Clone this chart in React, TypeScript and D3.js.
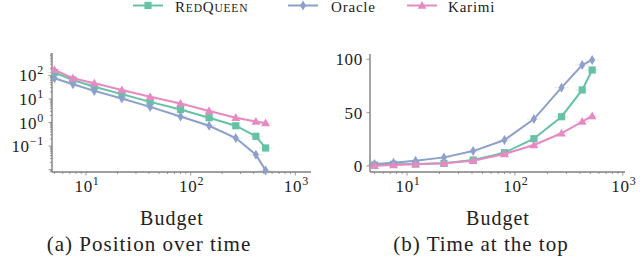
import React from 'react';
import * as d3 from 'd3';

// budgets on the x axis (shared by both panels)
const budgets = [5, 7.5, 12, 22, 41, 80, 150, 270, 420, 520];

// (a) position over time (log scale)
const posRedQueen = [132, 64, 33, 16, 7.5, 3.55, 1.6, 0.73, 0.26, 0.083];
const posOracle = [76, 42, 22, 10.5, 4.6, 1.8, 0.73, 0.22, 0.043, 0.0093];
const posKarimi = [172, 76, 46, 24, 12.3, 6.4, 3.1, 1.6, 1.1, 0.94];

// (b) time at the top (linear)
const topRedQueen = [0.9, 1.6, 1.9, 2.5, 5.6, 12.5, 25.6, 46.2, 71.3, 90];
const topOracle = [1.9, 3.1, 5, 8.1, 14, 24.4, 44, 73.4, 94.7, 99.4];
const topKarimi = [0.3, 0.9, 1.6, 2.5, 5, 11.3, 19.7, 30.7, 41.6, 46.9];

const xTickExps = [1, 2, 3];
const leftYTickExps = [2, 1, 0, -1];
const rightYTicks = [0, 50, 100];

const GREEN = '#66c2a5';
const BLUE = '#8da0cb';
const PINK = '#e78ac3';
const AXIS = '#7f7f7f';
const FONT = "'Liberation Serif'";

type Marker = 'square' | 'diamond' | 'triangle';

const series = [
  { name: 'RedQueen', color: GREEN, marker: 'square' as Marker, pos: posRedQueen, top: topRedQueen },
  { name: 'Oracle', color: BLUE, marker: 'diamond' as Marker, pos: posOracle, top: topOracle },
  { name: 'Karimi', color: PINK, marker: 'triangle' as Marker, pos: posKarimi, top: topKarimi },
];

const MarkerShape = ({ kind, x, y, color }: { kind: Marker; x: number; y: number; color: string }) => {
  if (kind === 'square') return <rect x={x - 3.6} y={y - 3.6} width={7.2} height={7.2} fill={color} />;
  if (kind === 'diamond') return <path d={`M${x},${y - 5} L${x + 3},${y} L${x},${y + 5} L${x - 3},${y} Z`} fill={color} />;
  return <path d={`M${x},${y - 4.6} L${x + 4.4},${y + 3.2} L${x - 4.4},${y + 3.2} Z`} fill={color} />;
};

const Txt = ({ x, y, size, ls = 1, anchor = 'middle', children }: any) => (
  <text x={x} y={y} fontSize={size} textAnchor={anchor} fill="#222" style={{ fontFamily: FONT, letterSpacing: `${ls}px` }}>
    {children}
  </text>
);

const Pow = ({ e }: { e: number }) => (
  <>
    10
    <tspan fontSize={12} dy={-7}>{e < 0 ? `\u2212${-e}` : e}</tspan>
  </>
);

const minorLog = (lo: number, hi: number) => {
  const out: number[] = [];
  for (let k = Math.floor(Math.log10(lo)); k <= Math.ceil(Math.log10(hi)); k++) {
    for (let m = 1; m <= 9; m++) {
      const v = m * Math.pow(10, k);
      if (v >= lo && v <= hi) out.push(v);
    }
  }
  return out;
};

const isDecade = (v: number) => Math.abs(Math.log10(v) - Math.round(Math.log10(v))) < 1e-9;

const Panel = ({ x, y, xTicksY, yLabelX, yTicks, yFormat, values, yMinor }: any) => {
  const [x0, x1] = x.range();
  const [y0, y1] = y.range();
  const line = (vals: number[]) =>
    d3.line<number>().x((_, i) => x(budgets[i])).y((v) => y(v))(vals) as string;
  const xd = x.domain();
  return (
    <g>
      {/* axes */}
      <line x1={x0} x2={x1} y1={y0} y2={y0} stroke={AXIS} strokeWidth={1.4} />
      <line x1={x0} x2={x0} y1={y0} y2={y1} stroke={AXIS} strokeWidth={1.4} />
      {minorLog(xd[0], xd[1]).map((v) => (
        <line key={'xm' + v} x1={x(v)} x2={x(v)} y1={y0} y2={y0 + (isDecade(v) ? 3.5 : 2)} stroke={AXIS} strokeWidth={0.8} />
      ))}
      {xTickExps.map((e) => (
        <Txt key={'xt' + e} x={x(Math.pow(10, e)) + 1} y={xTicksY} size={17} ls={0.7}>
          <Pow e={e} />
        </Txt>
      ))}
      {yMinor &&
        minorLog(y.domain()[0], y.domain()[1]).map((v) => (
          <line key={'ym' + v} x1={x0} x2={x0 - (isDecade(v) ? 3.5 : 2)} y1={y(v)} y2={y(v)} stroke={AXIS} strokeWidth={0.8} />
        ))}
      {yTicks.map((t: number) => (
        <g key={'yt' + t}>
          {!yMinor && <line x1={x0} x2={x0 - 3.5} y1={y(t)} y2={y(t)} stroke={AXIS} strokeWidth={0.8} />}
          <Txt x={yLabelX} y={y(t) + 6} size={17} ls={0.7} anchor="end">
            {yFormat(t)}
          </Txt>
        </g>
      ))}
      {/* series */}
      {series.map((s) => {
        const vals: number[] = values(s);
        return (
          <g key={s.name}>
            {vals.map((v, i) => (
              <line key={'e' + i} x1={x(budgets[i]) - 7} x2={x(budgets[i]) + 7} y1={y(v)} y2={y(v)} stroke={s.color} strokeOpacity={0.25} strokeWidth={1} />
            ))}
            <path d={line(vals)} fill="none" stroke={s.color} strokeWidth={2} />
            {vals.map((v, i) => (
              <MarkerShape key={'m' + i} kind={s.marker} x={x(budgets[i])} y={y(v)} color={s.color} />
            ))}
          </g>
        );
      })}
    </g>
  );
};

export default function App() {
  const W = 640;
  const H = 259;

  const xL = d3.scaleLog().domain([Math.pow(10, 0.675), Math.pow(10, 3.15)]).range([52, 311]);
  const yL = d3.scaleLog().domain([Math.pow(10, -2.1), Math.pow(10, 2.95)]).range([172, 53]);
  const xR = d3.scaleLog().domain([Math.pow(10, 0.657), Math.pow(10, 3.02)]).range([370, 625]);
  const yR = d3.scaleLinear().domain([-5.6, 105]).range([172, 54]);

  const legend = [
    { s: series[0], lx: 133, tx: 175 },
    { s: series[1], lx: 288, tx: 331 },
    { s: series[2], lx: 407, tx: 448 },
  ];

  return (
    <svg width={W} height={H} style={{ display: 'block', position: 'absolute', left: 0, top: 0 }}>
      <rect width={W} height={H} fill="#fff" />
      {/* legend */}
      {legend.map(({ s, lx, tx }) => (
        <g key={s.name}>
          <line x1={lx} x2={lx + 30} y1={5.5} y2={5.5} stroke={s.color} strokeWidth={2} />
          <MarkerShape kind={s.marker} x={lx + 15} y={5.5} color={s.color} />
          <Txt x={tx} y={11.5} size={15} ls={0.8} anchor="start">
            {s.name === 'RedQueen' ? (
              <>
                R<tspan fontSize={11.5}>ED</tspan>Q<tspan fontSize={11.5}>UEEN</tspan>
              </>
            ) : (
              s.name
            )}
          </Txt>
        </g>
      ))}

      <Panel
        x={xL}
        y={yL}
        xTicksY={191.5}
        yLabelX={44}
        yTicks={leftYTickExps.map((e) => Math.pow(10, e))}
        yFormat={(t: number) => <Pow e={Math.round(Math.log10(t))} />}
        values={(s: any) => s.pos}
        yMinor
      />
      <Panel
        x={xR}
        y={yR}
        xTicksY={191.5}
        yLabelX={363}
        yTicks={rightYTicks}
        yFormat={(t: number) => String(t)}
        values={(s: any) => s.top}
      />

      <Txt x={172} y={225} size={20}>Budget</Txt>
      <Txt x={498} y={225} size={20}>Budget</Txt>
      <Txt x={149} y={251} size={21}>(a) Position over time</Txt>
      <Txt x={481} y={251} size={21}>(b) Time at the top</Txt>
    </svg>
  );
}
